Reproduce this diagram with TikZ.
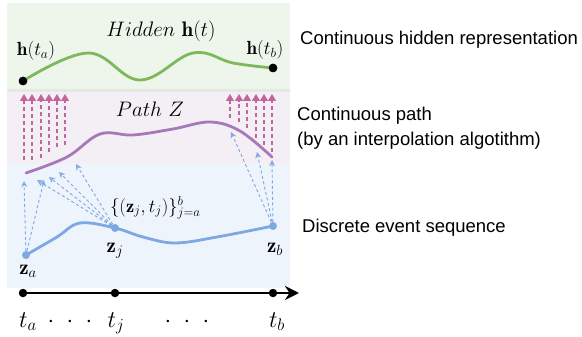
\RequirePackage{fix-cm}
\documentclass[tikz,border=0pt]{standalone}
\usepackage{fontspec}
\newfontfamily\arialf{Liberation Sans}
\usetikzlibrary{arrows.meta}
\definecolor{bggreen}{HTML}{EEF6EC}
\definecolor{bgsep}{HTML}{E4E9E4}
\definecolor{bgpurple}{HTML}{F3EFF5}
\definecolor{bgblue}{HTML}{EEF4FC}
\definecolor{cgreen}{HTML}{7DB95A}
\definecolor{cpurple}{HTML}{A878B8}
\definecolor{cblue}{HTML}{7FA8E2}
\definecolor{cpink}{HTML}{C2649E}
\tikzset{
  blackdot/.style={circle,fill=black,inner sep=0pt,minimum size=8.5pt},
  bluedot/.style={circle,fill=cblue,inner sep=0pt,minimum size=8pt},
  curve/.style={line width=2.8pt,line cap=round},
  pinkarrow/.style={draw=cpink,line width=1.1pt,dash pattern=on 4pt off 3pt,-{Triangle[width=8pt,length=7pt,fill=cpink]}},
  bluearrow/.style={draw=cblue,line width=0.9pt,dash pattern=on 3pt off 2.5pt,-{Stealth[open,length=6pt,width=6pt]}},
  tlabel/.style={inner sep=0pt,font=\fontsize{21}{25}\selectfont},
  mlab/.style={inner sep=0pt,font=\fontsize{19}{22}\selectfont},
  slab/.style={inner sep=0pt,font=\fontsize{18.5}{22}\selectfont},
  zlab/.style={inner sep=0pt,font=\fontsize{21}{24}\selectfont},
  tlab/.style={inner sep=0pt,font=\fontsize{24}{28}\selectfont},
  rlab/.style={inner sep=0pt,anchor=base west,font=\arialf\fontsize{18.5}{22}\selectfont},
}
\begin{document}
\begin{tikzpicture}[x=1pt,y=-1pt]
\useasboundingbox (0,0) rectangle (582,337);
% bands
\fill[bggreen] (7,3) rectangle (290,90);
\fill[bgsep] (7,89) rectangle (290,92);
\fill[bgpurple] (7,92) rectangle (290,164);
\fill[bgblue] (7,164) rectangle (290,288);

% pink dashed arrows (left group)
\foreach \x/\b [count=\i] in {24/160,32/160,41/158,49/152,57/147,65/145}{
  \coordinate (pl\i s) at (\x,\b);
  \coordinate (pl\i e) at (\x,94);
  \draw[pinkarrow] (pl\i s) -- (pl\i e);
}
% pink dashed arrows (right group)
\foreach \x/\b [count=\i] in {230/118,239/122,247/128,256/138,264/145,272/152}{
  \coordinate (pr\i s) at (\x,\b);
  \coordinate (pr\i e) at (\x,94);
  \draw[pinkarrow] (pr\i s) -- (pr\i e);
}

% green hidden curve
\node[blackdot] (ha) at (23,81) {};
\node[blackdot] (hb) at (273,68) {};
\draw[curve,cgreen] plot[smooth,tension=0.65] coordinates {(23,81) (88,53) (140,80) (193,53) (233,63) (273,68)};
\node[blackdot] at (ha) {};
\node[blackdot] at (hb) {};

% purple path
\coordinate (pa) at (26,173);
\coordinate (pb) at (272,157);
\draw[curve,cpurple] plot[smooth,tension=0.6] coordinates {(26,173) (67,157) (100,134) (133,135) (173,129) (210,122) (240,131) (272,157)};

% blue discrete curve
\node[bluedot] (za) at (26,255) {};
\node[bluedot] (zj) at (115,228) {};
\node[bluedot] (zb) at (273,226) {};
\draw[curve,cblue] plot[smooth,tension=0.6] coordinates {(26,255) (57,237) (80,223) (115,228) (143,237) (175,243) (217,237) (273,226)};

% blue dashed arrows
\coordinate (ba1) at (24,181);
\coordinate (ba2) at (44,180);
\coordinate (bj1) at (37,180);
\coordinate (bj2) at (49,177);
\coordinate (bj3) at (59,172);
\coordinate (bj4) at (76,164);
\coordinate (bb1) at (231,132);
\coordinate (bb2) at (257,152);
\coordinate (bb3) at (272,160);
\draw[bluearrow] (za) -- (ba1);
\draw[bluearrow] (za) -- (ba2);
\draw[bluearrow] (zj) -- (bj1);
\draw[bluearrow] (zj) -- (bj2);
\draw[bluearrow] (zj) -- (bj3);
\draw[bluearrow] (zj) -- (bj4);
\draw[bluearrow] (zb) -- (bb1);
\draw[bluearrow] (zb) -- (bb2);
\draw[bluearrow] (zb) -- (bb3);

% time axis
\node[blackdot] (ta) at (23,293) {};
\node[blackdot] (tj) at (115,293) {};
\node[blackdot] (tb) at (273,293) {};
\coordinate (tend) at (299,293);
\draw[line width=2.8pt,-{Stealth[length=14pt,width=14pt]}] (ta.center) -- (tend);

% math labels
\node[tlabel,anchor=base] (title) at (161,37) {$Hidden\ \mathbf{h}(t)$};
\node[tlabel,anchor=base] (ptitle) at (150,117) {$Path\ Z$};
\node[mlab,anchor=base] (lha) at (36,56) {$\mathbf{h}(t_a)$};
\node[mlab,anchor=base] (lhb) at (265,55) {$\mathbf{h}(t_b)$};
\node[zlab,anchor=base] (lza) at (28,274) {$\mathbf{z}_a$};
\node[zlab,anchor=base] (lzj) at (115,252) {$\mathbf{z}_j$};
\node[zlab,anchor=base] (lzb) at (275,252) {$\mathbf{z}_b$};
\node[slab,anchor=base west] (lset) at (110,212) {$\{(\mathbf{z}_j,t_j)\}_{j=a}^{b}$};
\node[tlab,anchor=base] (lta) at (28,327) {$t_a$};
\node[tlab,anchor=base] (ltj) at (116,327) {$t_j$};
\node[tlab,anchor=base] (ltb) at (277,327) {$t_b$};
\node[tlab,anchor=base] (dots1) at (70,327) {$\cdot\hspace{7pt}\cdot\hspace{7pt}\cdot$};
\node[tlab,anchor=base] (dots2) at (187,327) {$\cdot\hspace{7pt}\cdot\hspace{7pt}\cdot$};

% right-hand descriptions
\node[rlab] (r1) at (300,45) {Continuous hidden representation};
\node[rlab] (r2) at (297,121) {Continuous path};
\node[rlab] (r3) at (297,146) {(by an interpolation algotithm)};
\node[rlab] (r4) at (302,232) {Discrete event sequence};
\end{tikzpicture}
\end{document}
